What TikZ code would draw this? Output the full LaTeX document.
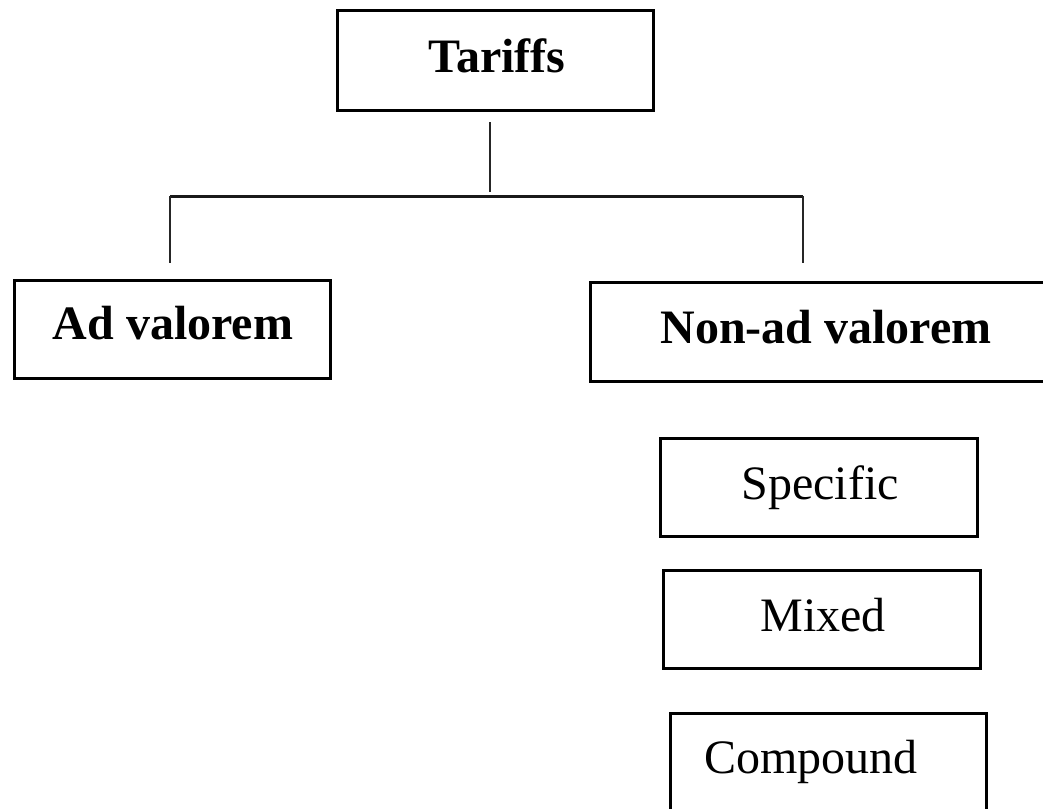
\documentclass[tikz,border=0pt]{standalone}
\usepackage{fontspec}
\setmainfont{Liberation Serif}
\tikzset{
  box/.style={draw=black, line width=3pt, inner sep=0pt, rectangle},
  lbl/.style={anchor=base, inner sep=0pt, font=\fontsize{48}{56}\selectfont},
  blbl/.style={lbl, font=\fontsize{48}{56}\selectfont\bfseries},
  conn/.style={draw=black!90, line width=3pt},
  thinconn/.style={draw=black!85, line width=2.5pt}
}
\begin{document}
\begin{tikzpicture}[x=1pt,y=-1pt]
\useasboundingbox (0,0) rectangle (1043,808);
\clip (0,0) rectangle (1043,808);
\fill[white] (0,0) rectangle (1043,808);
% boxes
\node[box, minimum width=316pt, minimum height=99pt] (tariffs) at (495,60.5) {};
\node[box, minimum width=316pt, minimum height=98pt] (ad) at (172,329) {};
\node[box, minimum width=470pt, minimum height=99pt] (nonad) at (825,331.5) {};
\node[box, minimum width=317pt, minimum height=98pt] (specific) at (818.5,487) {};
\node[box, minimum width=317pt, minimum height=98pt] (mixed) at (821.5,619) {};
\node[box, minimum width=316pt, minimum height=117pt] (compound) at (828,771.5) {};
% labels
\node[blbl] (tariffsT) at (497,72) {Tariffs};
\node[blbl] (adT) at (173,339) {Ad valorem};
\node[blbl] (nonadT) at (826,343) {Non-ad valorem};
\node[lbl] (specificT) at (820,499) {Specific};
\node[lbl] (mixedT) at (823,631) {Mixed};
\node[lbl] (compoundT) at (811,773) {Compound};
% connector points
\coordinate (t1) at (490,122);
\coordinate (t2) at (490,192);
\coordinate (hl) at (170,196);
\coordinate (hr) at (803,196);
\coordinate (l2) at (170,263);
\coordinate (r2) at (803,263);
\draw[thinconn] (t1) -- (t2);
\draw[conn] (hl) -- (hr);
\draw[thinconn] (hl) -- (l2);
\draw[thinconn] (hr) -- (r2);
\end{tikzpicture}
\end{document}
